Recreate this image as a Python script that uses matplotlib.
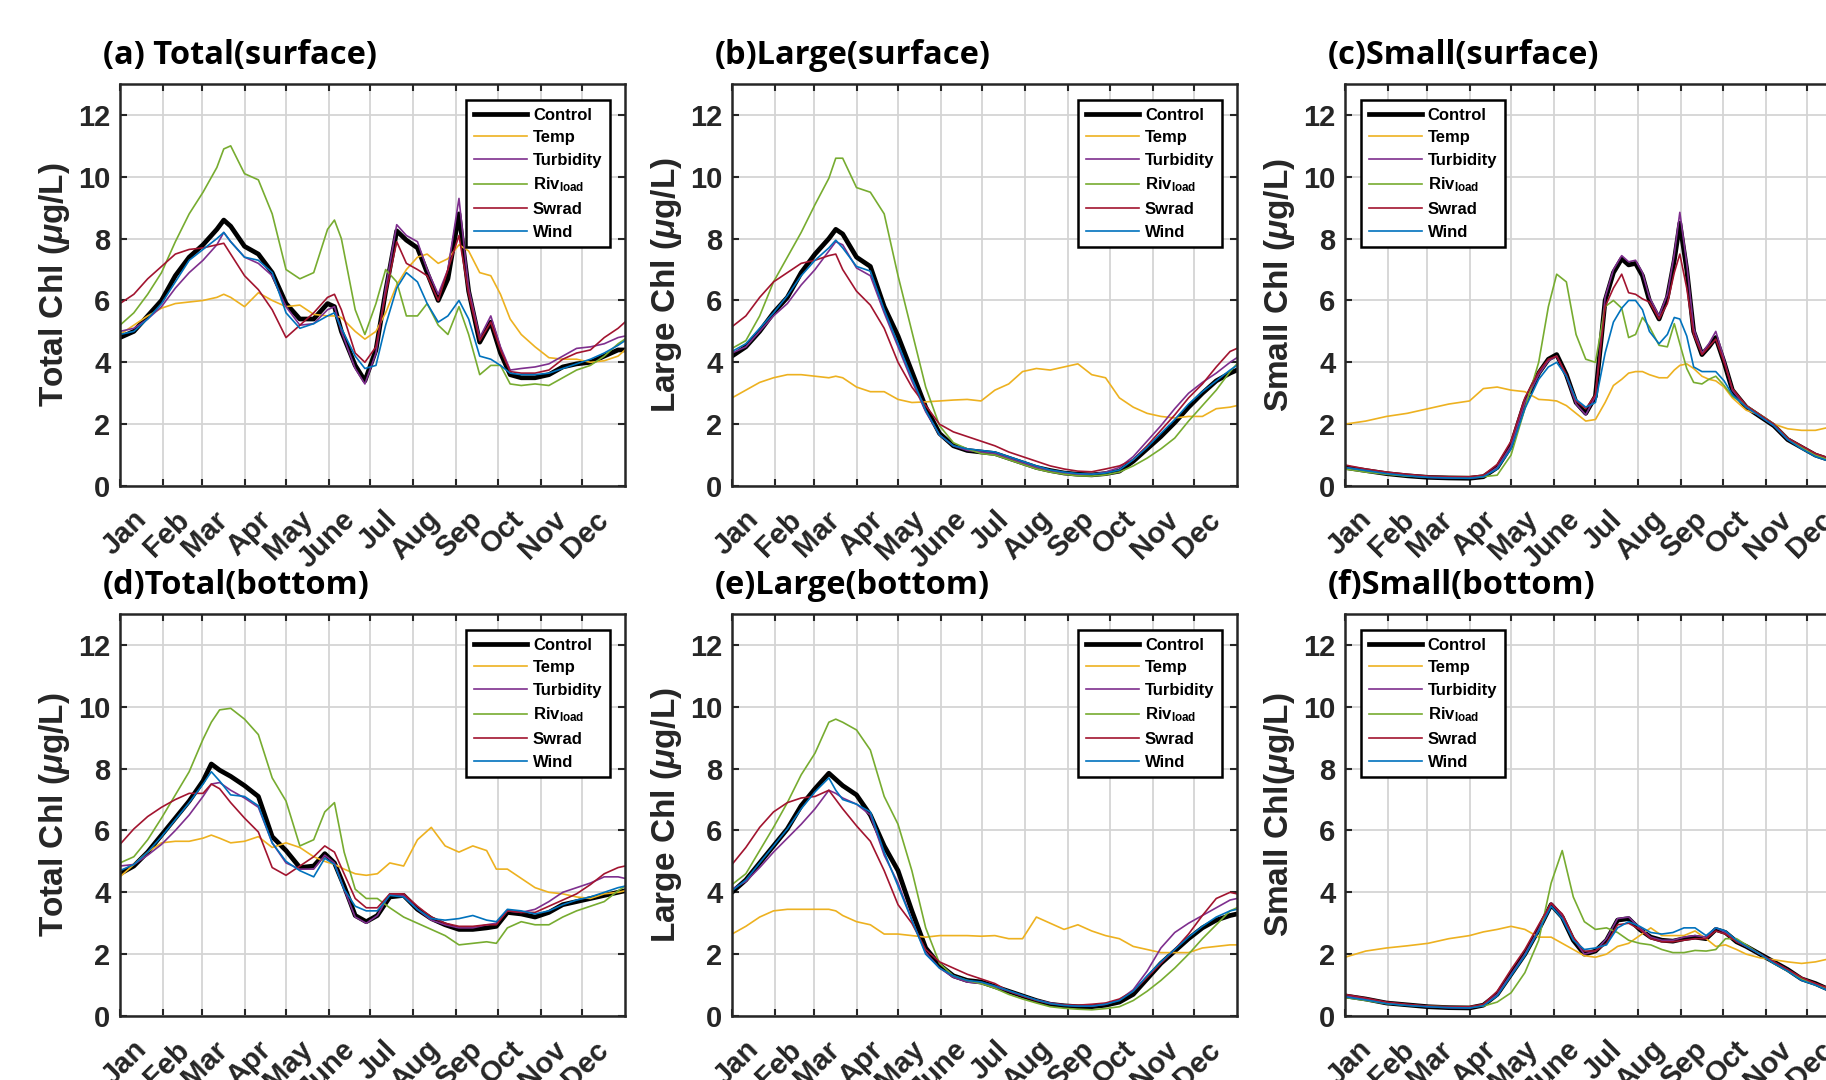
import matplotlib
matplotlib.use('Agg')
import matplotlib.pyplot as plt
from matplotlib.transforms import ScaledTranslation

plt.rcParams['font.family'] = ['Liberation Sans', 'DejaVu Sans']
plt.rcParams['font.weight'] = 'bold'
plt.rcParams['mathtext.fontset'] = 'custom'
plt.rcParams['mathtext.rm'] = 'Liberation Sans:bold'
plt.rcParams['mathtext.bf'] = 'Liberation Sans:bold'
plt.rcParams['mathtext.it'] = 'Liberation Sans:italic'

month_starts = [0, 31, 59, 90, 120, 151, 181, 212, 243, 273, 304, 334]
month_labels = ['Jan', 'Feb', 'Mar', 'Apr', 'May', 'June', 'Jul', 'Aug', 'Sep', 'Oct', 'Nov', 'Dec']
run_names = ['Control', 'Temp', 'Turbidity', r'Riv$_{\mathrm{load}}$', 'Swrad', 'Wind']
run_colors = ['black', '#EDB120', '#7E2F8E', '#77AC30', '#A2142F', '#0072BD']
run_widths = [3.4, 1.2, 1.2, 1.2, 1.2, 1.2]

# (a) total chl, surface
days_a = [0, 10, 20, 30, 40, 50, 60, 70, 75, 80, 90, 100, 110, 120, 130, 140, 150, 155, 160, 170, 177, 185,
          192, 200, 207, 215, 222, 230, 237, 245, 252, 260, 268, 275, 282, 290, 300, 310, 320, 330, 340, 350, 360, 365]
ctrl_a = [4.8, 5.0, 5.5, 6.0, 6.8, 7.4, 7.8, 8.3, 8.6, 8.4, 7.75, 7.5, 6.9, 5.9, 5.4, 5.4, 5.9, 5.8, 5.0, 3.9, 3.4, 4.4,
          6.3, 8.25, 7.95, 7.7, 6.9, 6.0, 6.7, 8.8, 6.3, 4.65, 5.3, 4.3, 3.6, 3.5, 3.5, 3.6, 3.85, 3.95, 4.0, 4.2, 4.4, 4.4]
temp_a = [4.9, 5.2, 5.5, 5.75, 5.9, 5.95, 6.0, 6.1, 6.2, 6.1, 5.8, 6.25, 6.0, 5.8, 5.85, 5.55, 5.5, 5.5, 5.45, 5.0, 4.75, 5.0,
          5.6, 6.5, 7.0, 7.4, 7.5, 7.2, 7.35, 7.8, 7.6, 6.9, 6.8, 6.2, 5.4, 4.9, 4.5, 4.15, 4.1, 4.1, 4.0, 4.05, 4.2, 4.4]
turb_a = [5.0, 5.1, 5.4, 5.8, 6.4, 6.9, 7.3, 7.8, 8.2, 7.9, 7.4, 7.2, 6.8, 5.8, 5.2, 5.25, 5.7, 5.8, 5.0, 3.8, 3.3, 4.3,
          6.4, 8.45, 8.1, 7.9, 7.0, 6.2, 7.0, 9.3, 6.4, 4.8, 5.5, 4.5, 3.75, 3.8, 3.85, 3.95, 4.2, 4.45, 4.5, 4.6, 4.8, 4.85]
riv_a = [5.2, 5.6, 6.2, 6.9, 7.9, 8.8, 9.5, 10.3, 10.9, 11.0, 10.1, 9.9, 8.8, 7.0, 6.7, 6.9, 8.3, 8.6, 8.0, 5.7, 4.9, 5.9,
         7.0, 6.6, 5.5, 5.5, 5.9, 5.2, 4.9, 5.8, 4.9, 3.6, 3.9, 3.9, 3.3, 3.25, 3.3, 3.25, 3.5, 3.75, 3.9, 4.2, 4.6, 4.75]
swrad_a = [5.9, 6.2, 6.7, 7.1, 7.5, 7.65, 7.7, 7.8, 7.85, 7.5, 6.8, 6.35, 5.7, 4.8, 5.2, 5.6, 6.1, 6.2, 5.7, 4.3, 4.0, 4.5,
           6.2, 7.9, 7.2, 7.0, 6.8, 6.0, 7.0, 8.1, 6.2, 4.7, 5.3, 4.4, 3.7, 3.65, 3.65, 3.75, 4.1, 4.3, 4.4, 4.8, 5.1, 5.3]
wind_a = [4.9, 5.0, 5.4, 5.9, 6.6, 7.3, 7.65, 8.0, 8.2, 7.9, 7.4, 7.3, 6.9, 5.6, 5.1, 5.25, 5.5, 5.6, 5.1, 4.2, 3.8, 3.9,
          5.2, 6.4, 6.9, 6.6, 5.9, 5.3, 5.5, 6.0, 5.4, 4.2, 4.1, 3.9, 3.65, 3.6, 3.6, 3.65, 3.8, 3.95, 4.1, 4.3, 4.55, 4.7]

# (b) large chl, surface
days_b = [0, 10, 20, 30, 40, 50, 60, 70, 75, 80, 90, 100, 110, 120, 130, 140, 150, 160, 170, 180, 190, 200,
          210, 220, 230, 240, 250, 260, 270, 280, 290, 300, 310, 320, 330, 340, 350, 360, 365]
ctrl_b = [4.2, 4.5, 5.0, 5.6, 6.1, 6.9, 7.5, 8.0, 8.3, 8.15, 7.4, 7.1, 5.8, 4.85, 3.7, 2.55, 1.7, 1.3, 1.15, 1.1, 1.05, 0.9,
          0.75, 0.6, 0.5, 0.42, 0.38, 0.36, 0.4, 0.48, 0.8, 1.2, 1.6, 2.05, 2.55, 3.0, 3.4, 3.65, 3.75]
temp_b = [2.85, 3.1, 3.35, 3.5, 3.6, 3.6, 3.55, 3.5, 3.55, 3.5, 3.2, 3.05, 3.05, 2.8, 2.7, 2.72, 2.75, 2.78, 2.8, 2.75, 3.1, 3.3,
          3.7, 3.8, 3.75, 3.85, 3.95, 3.6, 3.5, 2.85, 2.55, 2.35, 2.25, 2.2, 2.25, 2.25, 2.5, 2.55, 2.6]
turb_b = [4.3, 4.5, 5.0, 5.5, 5.9, 6.5, 7.0, 7.6, 7.9, 7.8, 7.05, 6.8, 5.6, 4.5, 3.4, 2.4, 1.65, 1.3, 1.15, 1.1, 1.05, 0.9,
          0.75, 0.6, 0.5, 0.42, 0.38, 0.38, 0.45, 0.6, 0.95, 1.45, 1.95, 2.5, 3.0, 3.35, 3.65, 4.0, 4.15]
riv_b = [4.45, 4.7, 5.5, 6.6, 7.4, 8.2, 9.1, 9.95, 10.6, 10.6, 9.65, 9.5, 8.8, 6.8, 5.0, 3.2, 1.95, 1.4, 1.2, 1.05, 1.0, 0.85,
         0.7, 0.55, 0.45, 0.38, 0.33, 0.32, 0.36, 0.45, 0.65, 0.9, 1.2, 1.55, 2.1, 2.6, 3.1, 3.7, 3.95]
swrad_b = [5.15, 5.5, 6.1, 6.6, 6.9, 7.2, 7.3, 7.45, 7.5, 7.0, 6.3, 5.85, 5.1, 4.0, 3.2, 2.6, 2.0, 1.75, 1.6, 1.45, 1.3, 1.1,
           0.95, 0.8, 0.65, 0.55, 0.48, 0.46, 0.55, 0.65, 0.85, 1.3, 1.8, 2.3, 2.85, 3.3, 3.85, 4.35, 4.45]
wind_b = [4.35, 4.6, 5.1, 5.6, 6.15, 6.8, 7.3, 7.7, 7.95, 7.7, 7.1, 6.95, 5.7, 4.6, 3.5, 2.45, 1.65, 1.3, 1.2, 1.15, 1.1, 0.95,
          0.8, 0.65, 0.52, 0.45, 0.4, 0.38, 0.42, 0.52, 0.85, 1.25, 1.7, 2.15, 2.65, 3.05, 3.4, 3.75, 3.9]

# (c) small chl, surface
days_c = [0, 15, 30, 45, 60, 75, 90, 100, 110, 120, 130, 140, 147, 153, 160, 167, 174, 181, 188, 194, 200, 205,
          210, 215, 220, 227, 233, 238, 242, 247, 252, 258, 263, 268, 274, 280, 290, 300, 310, 320, 330, 340, 350]
ctrl_c = [0.6, 0.5, 0.4, 0.33, 0.28, 0.26, 0.25, 0.3, 0.6, 1.3, 2.7, 3.65, 4.1, 4.25, 3.6, 2.7, 2.35, 2.9, 6.0, 6.9, 7.35, 7.15,
          7.2, 6.8, 6.0, 5.4, 6.1, 7.3, 8.5, 7.0, 5.0, 4.25, 4.5, 4.8, 4.0, 3.1, 2.55, 2.25, 1.95, 1.5, 1.25, 1.0, 0.85]
temp_c = [2.0, 2.1, 2.25, 2.35, 2.5, 2.65, 2.75, 3.15, 3.2, 3.1, 3.05, 2.8, 2.78, 2.75, 2.6, 2.35, 2.1, 2.15, 2.7, 3.25, 3.45, 3.65,
          3.7, 3.7, 3.6, 3.5, 3.5, 3.75, 3.9, 3.95, 3.8, 3.55, 3.45, 3.4, 3.2, 2.85, 2.45, 2.3, 2.0, 1.85, 1.8, 1.8, 1.9]
turb_c = [0.6, 0.5, 0.4, 0.33, 0.28, 0.26, 0.25, 0.3, 0.6, 1.3, 2.7, 3.6, 4.05, 4.2, 3.55, 2.65, 2.3, 2.9, 6.1, 7.0, 7.45, 7.25,
          7.3, 6.9, 6.1, 5.5, 6.2, 7.5, 8.85, 7.2, 5.1, 4.3, 4.6, 5.0, 4.1, 3.1, 2.55, 2.25, 1.95, 1.5, 1.25, 1.0, 0.85]
riv_c = [0.55, 0.45, 0.38, 0.32, 0.3, 0.3, 0.3, 0.3, 0.35, 1.0, 2.5, 4.0, 5.8, 6.85, 6.6, 4.9, 4.1, 4.0, 5.8, 6.0, 5.75, 4.8,
         4.9, 5.45, 5.15, 4.55, 4.5, 5.25, 4.6, 3.8, 3.35, 3.3, 3.45, 3.55, 3.25, 2.9, 2.6, 2.3, 2.0, 1.55, 1.25, 1.0, 0.85]
swrad_c = [0.68, 0.55, 0.45, 0.38, 0.32, 0.3, 0.3, 0.35, 0.7, 1.45, 2.85, 3.7, 4.1, 4.2, 3.6, 2.75, 2.5, 2.95, 5.8, 6.4, 6.85, 6.25,
           6.2, 6.05, 5.95, 5.4, 5.9, 6.9, 7.5, 6.4, 4.9, 4.25, 4.5, 4.75, 4.0, 3.15, 2.6, 2.3, 2.0, 1.55, 1.3, 1.05, 0.9]
wind_c = [0.6, 0.5, 0.4, 0.33, 0.28, 0.26, 0.25, 0.3, 0.55, 1.2, 2.5, 3.45, 3.85, 4.0, 3.55, 2.8, 2.55, 2.7, 4.3, 5.3, 5.75, 6.0,
          6.0, 5.7, 5.0, 4.6, 4.9, 5.45, 5.4, 4.85, 3.85, 3.7, 3.7, 3.7, 3.4, 2.95, 2.55, 2.25, 1.95, 1.5, 1.2, 0.95, 0.8]

# (d) total chl, bottom
days_d = [0, 10, 20, 30, 40, 50, 60, 66, 72, 80, 90, 100, 110, 120, 130, 140, 148, 155, 162, 170, 178, 186,
          195, 205, 215, 225, 235, 245, 255, 265, 272, 280, 290, 300, 310, 320, 330, 340, 350, 360, 365]
ctrl_d = [4.6, 4.85, 5.3, 5.85, 6.4, 6.95, 7.6, 8.15, 7.95, 7.75, 7.45, 7.1, 5.8, 5.35, 4.8, 4.85, 5.25, 4.95, 4.2, 3.25, 3.05,
          3.25, 3.85, 3.9, 3.45, 3.15, 2.95, 2.8, 2.8, 2.85, 2.9, 3.35, 3.3, 3.2, 3.35, 3.6, 3.7, 3.8, 3.9, 4.0, 4.05]
temp_d = [4.5, 4.9, 5.3, 5.6, 5.65, 5.65, 5.75, 5.85, 5.75, 5.6, 5.65, 5.8, 5.45, 5.6, 5.45, 5.15, 5.0, 4.9, 4.75, 4.6, 4.55,
          4.6, 4.95, 4.85, 5.7, 6.1, 5.5, 5.3, 5.5, 5.35, 4.75, 4.75, 4.45, 4.15, 4.0, 3.95, 3.85, 3.8, 3.95, 4.0, 4.05]
turb_d = [4.85, 4.9, 5.2, 5.55, 6.0, 6.5, 7.1, 7.5, 7.55, 7.3, 7.05, 6.75, 5.6, 4.95, 4.75, 4.75, 5.2, 4.95, 4.1, 3.2, 3.0,
          3.25, 3.95, 3.9, 3.45, 3.1, 2.95, 2.85, 2.85, 2.95, 3.0, 3.4, 3.35, 3.45, 3.7, 4.0, 4.15, 4.3, 4.5, 4.5, 4.45]
riv_d = [4.95, 5.15, 5.7, 6.4, 7.15, 7.9, 8.95, 9.5, 9.9, 9.95, 9.6, 9.1, 7.7, 6.95, 5.5, 5.7, 6.6, 6.9, 5.3, 4.1, 3.8,
         3.8, 3.5, 3.2, 3.0, 2.8, 2.6, 2.3, 2.35, 2.4, 2.35, 2.85, 3.05, 2.95, 2.95, 3.2, 3.4, 3.55, 3.7, 4.05, 4.2]
swrad_d = [5.55, 6.05, 6.45, 6.75, 7.0, 7.2, 7.2, 7.5, 7.35, 6.9, 6.4, 5.95, 4.8, 4.55, 4.85, 5.15, 5.5, 5.3, 4.6, 3.8, 3.5,
           3.5, 3.95, 3.95, 3.55, 3.2, 3.0, 2.9, 2.9, 2.95, 2.95, 3.4, 3.35, 3.35, 3.55, 3.75, 3.95, 4.25, 4.6, 4.8, 4.85]
wind_d = [4.7, 4.9, 5.3, 5.8, 6.35, 6.9, 7.5, 7.9, 7.6, 7.15, 7.1, 6.8, 5.6, 5.0, 4.7, 4.5, 5.1, 4.9, 4.1, 3.55, 3.4,
          3.4, 3.9, 3.85, 3.45, 3.15, 3.1, 3.15, 3.25, 3.1, 3.05, 3.45, 3.4, 3.3, 3.4, 3.6, 3.75, 3.85, 4.0, 4.15, 4.2]

# (e) large chl, bottom
days_e = [0, 10, 20, 30, 40, 50, 60, 70, 75, 80, 90, 100, 110, 120, 130, 140, 150, 160, 170, 180, 190, 200,
          210, 220, 230, 240, 250, 260, 270, 280, 290, 300, 310, 320, 330, 340, 350, 360, 365]
ctrl_e = [4.0, 4.4, 4.95, 5.5, 6.05, 6.8, 7.35, 7.85, 7.65, 7.45, 7.15, 6.5, 5.5, 4.7, 3.4, 2.2, 1.65, 1.3, 1.15, 1.1, 0.95, 0.8,
          0.65, 0.5, 0.38, 0.33, 0.3, 0.3, 0.35, 0.45, 0.7, 1.2, 1.7, 2.1, 2.5, 2.85, 3.1, 3.25, 3.3]
temp_e = [2.65, 2.9, 3.2, 3.4, 3.45, 3.45, 3.45, 3.45, 3.4, 3.25, 3.05, 2.95, 2.65, 2.65, 2.6, 2.55, 2.6, 2.6, 2.6, 2.58, 2.6, 2.5,
          2.5, 3.2, 3.0, 2.8, 2.95, 2.75, 2.6, 2.5, 2.25, 2.15, 2.05, 2.05, 2.05, 2.2, 2.25, 2.3, 2.3]
turb_e = [4.1, 4.35, 4.8, 5.3, 5.75, 6.2, 6.7, 7.3, 7.2, 7.05, 6.85, 6.5, 5.2, 4.3, 3.1, 2.05, 1.55, 1.25, 1.1, 1.05, 0.95, 0.8,
          0.65, 0.52, 0.42, 0.36, 0.32, 0.32, 0.38, 0.52, 0.85, 1.45, 2.2, 2.7, 3.0, 3.25, 3.5, 3.75, 3.8]
riv_e = [4.25, 4.6, 5.35, 6.1, 6.9, 7.8, 8.5, 9.5, 9.6, 9.5, 9.25, 8.6, 7.1, 6.2, 4.7, 2.85, 1.7, 1.3, 1.15, 1.05, 0.9, 0.7,
         0.55, 0.42, 0.3, 0.25, 0.22, 0.2, 0.24, 0.3, 0.5, 0.8, 1.15, 1.55, 2.0, 2.5, 2.95, 3.4, 3.5]
swrad_e = [4.9, 5.45, 6.1, 6.6, 6.9, 7.05, 7.1, 7.3, 7.0, 6.7, 6.15, 5.65, 4.7, 3.6, 3.0, 2.15, 1.75, 1.55, 1.35, 1.2, 1.05, 0.8,
           0.65, 0.5, 0.4, 0.36, 0.35, 0.38, 0.42, 0.55, 0.8, 1.25, 1.7, 2.15, 2.65, 3.25, 3.8, 4.0, 3.95]
wind_e = [4.05, 4.4, 4.95, 5.5, 6.05, 6.7, 7.25, 7.7, 7.3, 7.0, 6.85, 6.6, 5.3, 4.2, 3.1, 2.0, 1.55, 1.3, 1.15, 1.1, 0.97, 0.82,
          0.67, 0.52, 0.4, 0.34, 0.32, 0.32, 0.38, 0.5, 0.8, 1.3, 1.75, 2.15, 2.55, 2.9, 3.2, 3.4, 3.45]

# (f) small chl, bottom
days_f = [0, 15, 30, 45, 60, 75, 90, 100, 110, 120, 130, 140, 149, 157, 165, 173, 181, 189, 197,
          205, 213, 221, 229, 237, 245, 253, 261, 268, 275, 283, 290, 300, 310, 320, 330, 340, 350]
ctrl_f = [0.65, 0.55, 0.42, 0.36, 0.3, 0.27, 0.26, 0.35, 0.7, 1.35, 2.0, 2.8, 3.6, 3.2, 2.45, 2.0, 2.1, 2.45, 3.1,
          3.15, 2.8, 2.55, 2.45, 2.42, 2.5, 2.55, 2.5, 2.8, 2.7, 2.4, 2.25, 2.0, 1.75, 1.5, 1.2, 1.05, 0.85]
temp_f = [1.9, 2.1, 2.2, 2.27, 2.35, 2.5, 2.6, 2.72, 2.8, 2.9, 2.8, 2.55, 2.55, 2.35, 2.15, 1.95, 1.9, 2.0, 2.25,
          2.35, 2.6, 2.85, 2.6, 2.6, 2.6, 2.75, 2.5, 2.25, 2.3, 2.15, 2.0, 1.88, 1.82, 1.75, 1.7, 1.75, 1.85]
turb_f = [0.65, 0.55, 0.42, 0.36, 0.3, 0.27, 0.26, 0.35, 0.7, 1.35, 2.0, 2.8, 3.65, 3.25, 2.5, 2.0, 2.1, 2.5, 3.15,
          3.2, 2.85, 2.55, 2.45, 2.45, 2.55, 2.6, 2.55, 2.85, 2.7, 2.4, 2.25, 2.0, 1.75, 1.5, 1.2, 1.05, 0.85]
riv_f = [0.6, 0.5, 0.4, 0.35, 0.32, 0.3, 0.3, 0.32, 0.45, 0.75, 1.4, 2.45, 4.3, 5.35, 3.85, 3.05, 2.8, 2.85, 2.7,
         2.45, 2.35, 2.3, 2.15, 2.05, 2.05, 2.12, 2.1, 2.15, 2.5, 2.5, 2.3, 2.0, 1.7, 1.45, 1.2, 1.0, 0.9]
swrad_f = [0.7, 0.58, 0.45, 0.38, 0.32, 0.3, 0.3, 0.38, 0.8, 1.5, 2.15, 2.95, 3.65, 3.3, 2.55, 2.1, 2.1, 2.35, 2.95,
           3.0, 2.8, 2.5, 2.4, 2.4, 2.45, 2.5, 2.5, 2.75, 2.65, 2.4, 2.25, 2.0, 1.75, 1.5, 1.25, 1.05, 0.9]
wind_f = [0.62, 0.52, 0.4, 0.34, 0.3, 0.27, 0.26, 0.33, 0.65, 1.3, 1.95, 2.75, 3.55, 3.15, 2.45, 2.15, 2.2, 2.3, 2.85,
          3.05, 2.9, 2.7, 2.65, 2.7, 2.85, 2.85, 2.6, 2.85, 2.75, 2.45, 2.25, 2.0, 1.7, 1.45, 1.15, 1.0, 0.8]

panels = [
    (days_a, [ctrl_a, temp_a, turb_a, riv_a, swrad_a, wind_a], '(a) Total(surface)', r'Total Chl ($\mu$g/L)', 'right'),
    (days_b, [ctrl_b, temp_b, turb_b, riv_b, swrad_b, wind_b], '(b)Large(surface)', r'Large Chl ($\mu$g/L)', 'right'),
    (days_c, [ctrl_c, temp_c, turb_c, riv_c, swrad_c, wind_c], '(c)Small(surface)', r'Small Chl ($\mu$g/L)', 'left'),
    (days_d, [ctrl_d, temp_d, turb_d, riv_d, swrad_d, wind_d], '(d)Total(bottom)', r'Total Chl ($\mu$g/L)', 'right'),
    (days_e, [ctrl_e, temp_e, turb_e, riv_e, swrad_e, wind_e], '(e)Large(bottom)', r'Large Chl ($\mu$g/L)', 'right'),
    (days_f, [ctrl_f, temp_f, turb_f, riv_f, swrad_f, wind_f], '(f)Small(bottom)', r'Small Chl($\mu$g/L)', 'left'),
]

W, H = 1826, 1080
fig = plt.figure(figsize=(W / 100, H / 100), dpi=100)
lefts = [120, 732, 1345]
tops = [84, 614]
aw, ah = 505, 402
axcol = '#262626'

for i, (days, series, title, ylab, legside) in enumerate(panels):
    left = lefts[i % 3]
    top = tops[i // 3]
    ax = fig.add_axes([left / W, 1 - (top + ah) / H, aw / W, ah / H])

    for vals, name, col, lw in zip(series, run_names, run_colors, run_widths):
        ax.plot(days, vals, color=col, lw=lw, label=name, solid_joinstyle='round')

    ax.set_xlim(0, 365)
    ax.set_ylim(0, 13)
    ax.set_yticks(range(0, 13, 2))
    ax.set_xticks(month_starts)
    ax.set_xticklabels(month_labels)
    ax.set_axisbelow(True)
    ax.grid(True, color='#d4d4d4', lw=1.3)
    for sp in ax.spines.values():
        sp.set_color(axcol)
        sp.set_linewidth(1.8)
    ax.tick_params(which='both', direction='in', top=True, right=True, length=5, width=1.5,
                   color=axcol, labelsize=21, labelcolor=axcol)
    ax.tick_params(axis='y', pad=7)
    ax.tick_params(axis='x', pad=14)
    shift = ScaledTranslation(12 / 100, 0, fig.dpi_scale_trans)
    for lab in ax.get_xticklabels():
        lab.set_rotation(45)
        lab.set_ha('right')
        lab.set_va('top')
        lab.set_rotation_mode('anchor')
        lab.set_transform(lab.get_transform() + shift)

    ax.set_ylabel(ylab, fontsize=24, fontweight='bold', color=axcol, va='center')
    ax.yaxis.set_label_coords(-0.13, 0.5)

    ax.text(-17 / aw, 1.07, title, transform=ax.transAxes, fontsize=23.5, family='Open Sans',
            fontweight='bold', ha='left', va='center', color='black')

    if legside == 'right':
        loc, anchor = 'upper right', (1 - 15 / aw, 1 - 16 / ah)
    else:
        loc, anchor = 'upper left', (16 / aw, 1 - 16 / ah)
    leg = ax.legend(loc=loc, bbox_to_anchor=anchor, borderaxespad=0,
                    prop={'family': 'Liberation Sans', 'weight': 'bold', 'size': 12},
                    frameon=True, fancybox=False, framealpha=1, edgecolor='black',
                    handlelength=3.2, handletextpad=0.35, labelspacing=0.46, borderpad=0.45)
    leg.get_frame().set_linewidth(1.8)

fig.savefig('out.png', dpi=100)
